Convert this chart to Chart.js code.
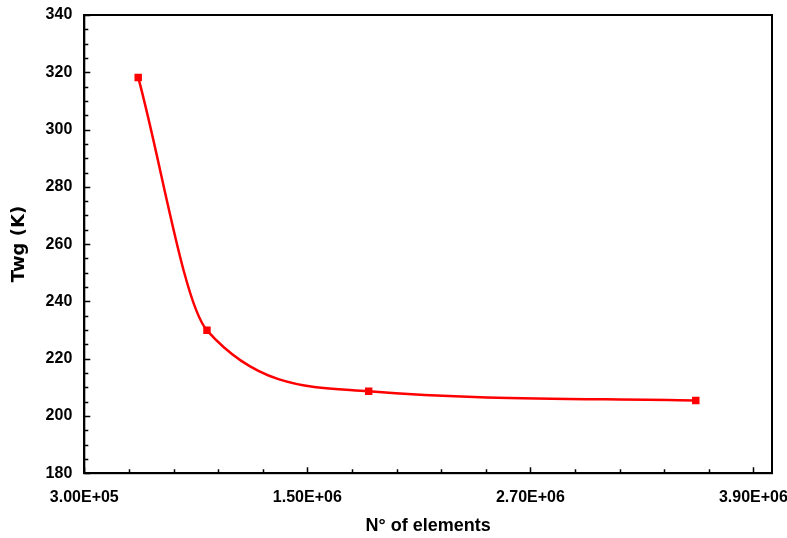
<!DOCTYPE html>
<html>
<head>
<meta charset="utf-8">
<script src="https://cdn.jsdelivr.net/npm/chart.js@4.4.1/dist/chart.umd.min.js"></script>
<style>
  html, body { margin: 0; padding: 0; background: #fff; }
  #wrap { width: 787px; height: 538px; }
</style>
</head>
<body>
<div id="wrap"><canvas id="chart"></canvas></div>
<script>
// values
const elements = [5.9e5, 9.6e5, 1.83e6, 3.59e6];
const twg = [318.2, 229.9, 208.6, 205.4];

const xTicks = [3.0e5, 1.5e6, 2.7e6, 3.9e6];
const yTicks = [180, 200, 220, 240, 260, 280, 300, 320, 340];
const xMinorStep = 2.4e5;
const yMinorStep = 5;

function sci(v) {
    const s = v.toExponential(2).toUpperCase();   // "3.00E+5"
    return s.replace(/E([+-])(\d)$/, "E$10$2");
}

// inward ticks + closed frame, drawn through the chart's own scales
const framePlugin = {
    id: "frame",
    afterDraw(chart) {
        const ctx = chart.ctx;
        const a = chart.chartArea;
        const x = chart.scales.x;
        const y = chart.scales.y;
        ctx.save();
        ctx.strokeStyle = "#000";
        ctx.lineWidth = 2;
        ctx.strokeRect(a.left, a.top, a.right - a.left, a.bottom - a.top);
        ctx.lineWidth = 1.5;
        ctx.beginPath();
        for (let v = x.min; v <= x.max + 1; v += xMinorStep) {
            const px = Math.round(x.getPixelForValue(v)) + 0.5;
            const major = xTicks.some(t => Math.abs(t - v) < 1);
            ctx.moveTo(px, a.bottom);
            ctx.lineTo(px, a.bottom - (major ? 6 : 4));
        }
        for (let v = y.min; v <= y.max; v += yMinorStep) {
            const py = Math.round(y.getPixelForValue(v)) + 0.5;
            const major = yTicks.includes(v);
            ctx.moveTo(a.left, py);
            ctx.lineTo(a.left + (major ? 6 : 4), py);
        }
        ctx.stroke();
        ctx.restore();
    }
};

const tickFont = { family: "'Liberation Sans', Arial, sans-serif", size: 16, weight: "bold" };
const titleFont = { family: "'Liberation Sans', Arial, sans-serif", size: 18, weight: "bold" };
const yTitleFont = { family: "'DejaVu Sans', Verdana, sans-serif", size: 18, weight: "bold" };

// keep the plot box where the reference has it
function noEdgePadding(s) {
    s.paddingLeft = 0;
    s.paddingRight = 0;
    s.paddingTop = 0;
    s.paddingBottom = 0;
}

new Chart(document.getElementById("chart").getContext("2d"), {
    type: "line",
    data: {
        datasets: [{
            label: "Twg",
            data: elements.map((v, i) => ({ x: v, y: twg[i] })),
            borderColor: "#ff0000",
            backgroundColor: "#ff0000",
            borderWidth: 2.5,
            pointStyle: "rect",
            pointRadius: 3.5,
            pointBackgroundColor: "#ff0000",
            pointBorderColor: "#ff0000",
            cubicInterpolationMode: "monotone",
            fill: false
        }]
    },
    options: {
        responsive: true,
        maintainAspectRatio: false,
        animation: false,
        layout: { padding: { top: 15, right: 15, left: 5, bottom: 1 } },
        plugins: { legend: { display: false }, tooltip: { enabled: false } },
        scales: {
            x: {
                type: "linear",
                min: 3.0e5,
                max: 4.0e6,
                afterBuildTicks: s => { s.ticks = xTicks.map(v => ({ value: v })); },
                afterFit: noEdgePadding,
                grid: { display: false, drawTicks: false },
                border: { display: true, color: "#000", width: 2 },
                ticks: {
                    callback: v => sci(v),
                    font: tickFont,
                    color: "#000",
                    maxRotation: 0,
                    autoSkip: false,
                    padding: 15
                },
                title: { display: true, text: "N° of elements", font: titleFont, color: "#000", padding: { top: -7, bottom: 0 } }
            },
            y: {
                min: 180,
                max: 340,
                afterBuildTicks: s => { s.ticks = yTicks.map(v => ({ value: v })); },
                afterFit: noEdgePadding,
                grid: { display: false, drawTicks: false },
                border: { display: true, color: "#000", width: 2 },
                ticks: { font: tickFont, color: "#000", padding: 12 },
                title: { display: true, text: "Twg (K)", font: yTitleFont, color: "#000", padding: { top: 4, bottom: 3 } }
            }
        }
    },
    plugins: [framePlugin]
});
</script>
</body>
</html>
